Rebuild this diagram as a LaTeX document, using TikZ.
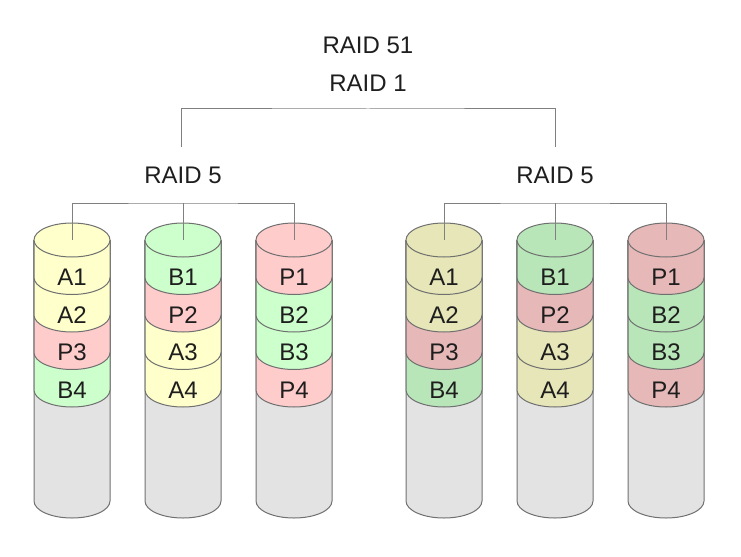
\documentclass[tikz,border=0pt]{standalone}
\usepackage{fontspec}
\setmainfont{Liberation Sans}

\tikzset{every picture/.style={line width=0.75pt}}
\tikzset{
  disk/.style={draw={rgb, 255:red, 112; green, 112; blue, 112 }},
  empty/.style={disk, fill={rgb, 255:red, 227; green, 227; blue, 227 }},
  ylwA/.style={disk, fill={rgb, 255:red, 255; green, 255; blue, 204 }},
  grnA/.style={disk, fill={rgb, 255:red, 204; green, 255; blue, 204 }},
  pnkA/.style={disk, fill={rgb, 255:red, 255; green, 204; blue, 204 }},
  ylwB/.style={disk, fill={rgb, 255:red, 230; green, 230; blue, 184 }},
  grnB/.style={disk, fill={rgb, 255:red, 184; green, 230; blue, 184 }},
  pnkB/.style={disk, fill={rgb, 255:red, 230; green, 184; blue, 184 }},
  wire/.style={draw={rgb, 255:red, 128; green, 128; blue, 128 }},
  lbl/.style={inner sep=0.75pt, font=\fontsize{18}{20}\selectfont, text={rgb, 255:red, 30; green, 30; blue, 30 }}
}

\begin{document}
\begin{tikzpicture}[x=0.75pt,y=0.75pt,yscale=-1,xscale=1]
\useasboundingbox (0,0) rectangle (741,556);

%Disk 1
\draw [empty] (110,240) -- (110,501) arc (0:180:38 and 17) -- (34,240) ;
\draw [grnA] (110,240) -- (110,390) arc (0:180:38 and 17) -- (34,240) ;
\draw [pnkA] (110,240) -- (110,352.5) arc (0:180:38 and 17) -- (34,240) ;
\draw [ylwA] (110,240) -- (110,315) arc (0:180:38 and 17) -- (34,240) ;
\draw [ylwA] (110,240) -- (110,277.5) arc (0:180:38 and 17) -- (34,240) ;
\draw [ylwA] (72,240) ellipse (38 and 17) ;
\coordinate (d1) at (72,240) ;
%Disk 2
\draw [empty] (221,240) -- (221,501) arc (0:180:38 and 17) -- (145,240) ;
\draw [ylwA] (221,240) -- (221,390) arc (0:180:38 and 17) -- (145,240) ;
\draw [ylwA] (221,240) -- (221,352.5) arc (0:180:38 and 17) -- (145,240) ;
\draw [pnkA] (221,240) -- (221,315) arc (0:180:38 and 17) -- (145,240) ;
\draw [grnA] (221,240) -- (221,277.5) arc (0:180:38 and 17) -- (145,240) ;
\draw [grnA] (183,240) ellipse (38 and 17) ;
\coordinate (d2) at (183,240) ;
%Disk 3
\draw [empty] (332,240) -- (332,501) arc (0:180:38 and 17) -- (256,240) ;
\draw [pnkA] (332,240) -- (332,390) arc (0:180:38 and 17) -- (256,240) ;
\draw [grnA] (332,240) -- (332,352.5) arc (0:180:38 and 17) -- (256,240) ;
\draw [grnA] (332,240) -- (332,315) arc (0:180:38 and 17) -- (256,240) ;
\draw [pnkA] (332,240) -- (332,277.5) arc (0:180:38 and 17) -- (256,240) ;
\draw [pnkA] (294,240) ellipse (38 and 17) ;
\coordinate (d3) at (294,240) ;
%Disk 4
\draw [empty] (482,240) -- (482,501) arc (0:180:38 and 17) -- (406,240) ;
\draw [grnB] (482,240) -- (482,390) arc (0:180:38 and 17) -- (406,240) ;
\draw [pnkB] (482,240) -- (482,352.5) arc (0:180:38 and 17) -- (406,240) ;
\draw [ylwB] (482,240) -- (482,315) arc (0:180:38 and 17) -- (406,240) ;
\draw [ylwB] (482,240) -- (482,277.5) arc (0:180:38 and 17) -- (406,240) ;
\draw [ylwB] (444,240) ellipse (38 and 17) ;
\coordinate (d4) at (444,240) ;
%Disk 5
\draw [empty] (593,240) -- (593,501) arc (0:180:38 and 17) -- (517,240) ;
\draw [ylwB] (593,240) -- (593,390) arc (0:180:38 and 17) -- (517,240) ;
\draw [ylwB] (593,240) -- (593,352.5) arc (0:180:38 and 17) -- (517,240) ;
\draw [pnkB] (593,240) -- (593,315) arc (0:180:38 and 17) -- (517,240) ;
\draw [grnB] (593,240) -- (593,277.5) arc (0:180:38 and 17) -- (517,240) ;
\draw [grnB] (555,240) ellipse (38 and 17) ;
\coordinate (d5) at (555,240) ;
%Disk 6
\draw [empty] (704,240) -- (704,501) arc (0:180:38 and 17) -- (628,240) ;
\draw [pnkB] (704,240) -- (704,390) arc (0:180:38 and 17) -- (628,240) ;
\draw [grnB] (704,240) -- (704,352.5) arc (0:180:38 and 17) -- (628,240) ;
\draw [grnB] (704,240) -- (704,315) arc (0:180:38 and 17) -- (628,240) ;
\draw [pnkB] (704,240) -- (704,277.5) arc (0:180:38 and 17) -- (628,240) ;
\draw [pnkB] (666,240) ellipse (38 and 17) ;
\coordinate (d6) at (666,240) ;

% Text Node
\draw (368,45) node [lbl] (raid51) {RAID 51};
% Text Node
\draw (368,83) node [lbl] (raid1) {RAID 1};
% Text Node
\draw (183,175) node [lbl] (raid5a) {RAID 5};
% Text Node
\draw (555,175) node [lbl] (raid5b) {RAID 5};

%Lines
\coordinate (barA) at (183,203) ;
\coordinate (barB) at (555,203) ;
\coordinate (topbar) at (368,109) ;
\coordinate (upA) at (181,147) ;
\coordinate (upB) at (555,147) ;
\draw [wire] (d1) |- (barA) -| (d3) ;
\draw [wire] (d2) -- (barA) ;
\draw [wire] (d4) |- (barB) -| (d6) ;
\draw [wire] (d5) -- (barB) ;
\draw [wire] (upA) |- (topbar) -| (upB) ;

% Text Node
\draw (72,277.5) node [lbl] (t11) {A1};
\draw (72,315) node [lbl] (t12) {A2};
\draw (72,352.5) node [lbl] (t13) {P3};
\draw (72,390) node [lbl] (t14) {B4};
% Text Node
\draw (183,277.5) node [lbl] (t21) {B1};
\draw (183,315) node [lbl] (t22) {P2};
\draw (183,352.5) node [lbl] (t23) {A3};
\draw (183,390) node [lbl] (t24) {A4};
% Text Node
\draw (294,277.5) node [lbl] (t31) {P1};
\draw (294,315) node [lbl] (t32) {B2};
\draw (294,352.5) node [lbl] (t33) {B3};
\draw (294,390) node [lbl] (t34) {P4};
% Text Node
\draw (444,277.5) node [lbl] (t41) {A1};
\draw (444,315) node [lbl] (t42) {A2};
\draw (444,352.5) node [lbl] (t43) {P3};
\draw (444,390) node [lbl] (t44) {B4};
% Text Node
\draw (555,277.5) node [lbl] (t51) {B1};
\draw (555,315) node [lbl] (t52) {P2};
\draw (555,352.5) node [lbl] (t53) {A3};
\draw (555,390) node [lbl] (t54) {A4};
% Text Node
\draw (666,277.5) node [lbl] (t61) {P1};
\draw (666,315) node [lbl] (t62) {B2};
\draw (666,352.5) node [lbl] (t63) {B3};
\draw (666,390) node [lbl] (t64) {P4};

\end{tikzpicture}
\end{document}
